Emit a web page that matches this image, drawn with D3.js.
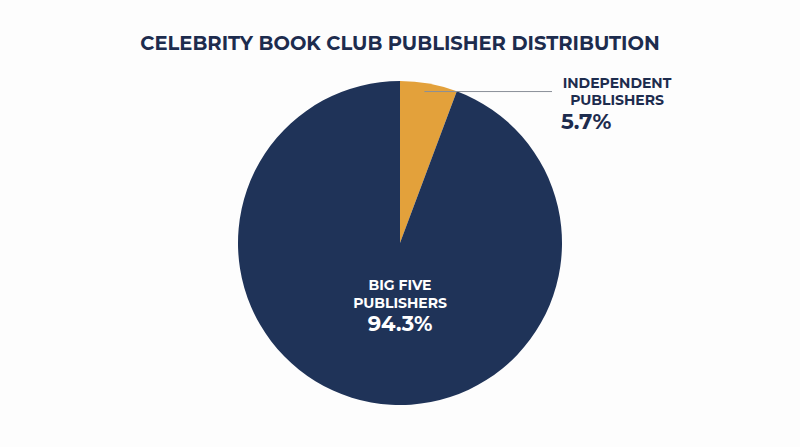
<!DOCTYPE html>
<html>
<head>
<meta charset="utf-8">
<script src="https://cdn.jsdelivr.net/npm/d3@7"></script>
<style>
  html, body { margin: 0; padding: 0; background: #fdfdfd; }
  svg { display: block; font-family: "Montserrat", "Open Sans", "Noto Sans", sans-serif; }
</style>
</head>
<body>
<svg id="chart" width="800" height="447"></svg>
<script>
const categories = ["Independent Publishers", "Big Five Publishers"];
const labelLines = [["INDEPENDENT", "PUBLISHERS"], ["BIG FIVE", "PUBLISHERS"]];
const shares = [5.7, 94.3];
const colors = ["#e3a13b", "#1f3358"];

const width = 800, height = 447;
const cx = 400, cy = 243, radius = 162;

const svg = d3.select("#chart");

// Title
svg.append("text")
    .attr("x", width / 2)
    .attr("y", 50)
    .attr("text-anchor", "middle")
    .attr("fill", "#1d2c4e")
    .attr("font-size", 19.5)
    .attr("font-weight", 700)
    .text("CELEBRITY BOOK CLUB PUBLISHER DISTRIBUTION");

const data = categories.map(function(c, i) {
    return { name: c, value: shares[i], lines: labelLines[i], color: colors[i] };
});

const pie = d3.pie()
    .sort(null)
    .value(function(d) { return d.value; });
const arcs = pie(data);

const arc = d3.arc().innerRadius(0).outerRadius(radius);

const g = svg.append("g")
    .attr("transform", "translate(" + cx + "," + cy + ")");

g.selectAll("path.slice")
    .data(arcs)
    .enter()
    .append("path")
    .attr("class", "slice")
    .attr("d", arc)
    .attr("fill", function(d) { return d.data.color; });

// Small slice: leader line + outside label
const small = arcs[0];
const inner = d3.arc().innerRadius(radius * 0.95).outerRadius(radius * 0.95);
const p0 = inner.centroid(small);
const lineY = p0[1];
g.append("line")
    .attr("x1", p0[0] - 3)
    .attr("y1", lineY)
    .attr("x2", 152)
    .attr("y2", lineY)
    .attr("stroke", "#8a8f99")
    .attr("stroke-width", 1);

const outLabel = g.append("g").attr("transform", "translate(217," + (lineY - 4) + ")");
outLabel.selectAll("text.name")
    .data(small.data.lines)
    .enter()
    .append("text")
    .attr("class", "name")
    .attr("x", 0)
    .attr("y", function(d, i) { return i * 17.5; })
    .attr("text-anchor", "middle")
    .attr("fill", "#1d2c4e")
    .attr("font-size", 14)
    .attr("font-weight", 700)
    .text(function(d) { return d; });
outLabel.append("text")
    .attr("x", -56)
    .attr("y", 41)
    .attr("fill", "#1d2c4e")
    .attr("font-size", 21.5)
    .attr("font-weight", 700)
    .text(small.data.value.toFixed(1) + "%");

// Big slice: label inside
const big = arcs[1];
const inLabel = g.append("g").attr("transform", "translate(0,47)");
inLabel.selectAll("text.name")
    .data(big.data.lines)
    .enter()
    .append("text")
    .attr("class", "name")
    .attr("x", 0)
    .attr("y", function(d, i) { return i * 17.5; })
    .attr("text-anchor", "middle")
    .attr("fill", "#ffffff")
    .attr("font-size", 14)
    .attr("font-weight", 700)
    .text(function(d) { return d; });
inLabel.append("text")
    .attr("x", 0)
    .attr("y", 41)
    .attr("text-anchor", "middle")
    .attr("fill", "#ffffff")
    .attr("font-size", 21)
    .attr("font-weight", 700)
    .text(big.data.value.toFixed(1) + "%");
</script>
</body>
</html>
